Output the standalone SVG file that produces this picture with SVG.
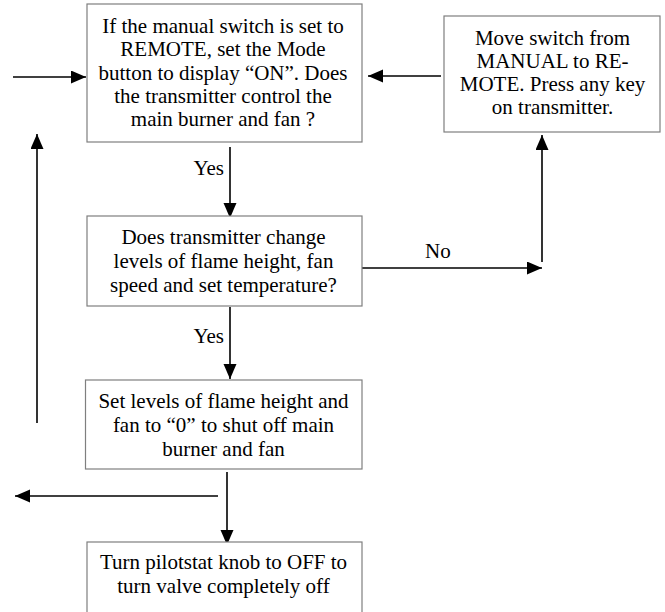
<svg xmlns="http://www.w3.org/2000/svg" width="665" height="612" viewBox="0 0 665 612">
<style>
.box{fill:#fff;stroke:#7f7f7f;stroke-width:1.2}
text{font-family:'Liberation Serif','Times New Roman',Tinos,'DejaVu Serif',serif;font-size:21px;fill:#000}
.t{text-anchor:middle}
.c{stroke:#000;stroke-width:1.6;fill:none;marker-end:url(#ah)}
</style>
<defs>
<marker id="ah" markerUnits="userSpaceOnUse" markerWidth="16" markerHeight="14" refX="15" refY="6.5" orient="auto">
<path d="M0,0 L15,6.5 L0,13 Z" fill="#000"/>
</marker>
</defs>
<g id="connectors">
<line class="c" x1="13" y1="77" x2="86" y2="77"/>
<line class="c" x1="441" y1="76" x2="368" y2="76"/>
<line class="c" x1="230" y1="147" x2="230" y2="218"/>
<line class="c" x1="230" y1="307" x2="230" y2="379"/>
<line class="c" x1="362" y1="268" x2="542" y2="268"/>
<line class="c" x1="542" y1="262" x2="542" y2="135"/>
<line class="c" x1="37" y1="423" x2="37" y2="134"/>
<line class="c" x1="227" y1="472" x2="227" y2="545"/>
<line class="c" x1="218" y1="496" x2="15" y2="496"/>
<text x="224" y="175" text-anchor="end">Yes</text>
<text x="224" y="343" text-anchor="end">Yes</text>
<text x="425" y="258">No</text>
</g>
<g id="n1">
<rect class="box" x="87" y="4" width="275" height="138"/>
<text class="t" x="223" y="33">If the manual switch is set to</text>
<text class="t" x="223" y="56.3">REMOTE, set the Mode</text>
<text class="t" x="223" y="79.6">button to display “ON”. Does</text>
<text class="t" x="223" y="102.9">the transmitter control the</text>
<text class="t" x="223" y="126.2">main burner and fan ?</text>
</g>
<g id="n2">
<rect class="box" x="444" y="16" width="216" height="116"/>
<text class="t" x="552.5" y="44.5">Move switch from</text>
<text class="t" x="552.5" y="67.8">MANUAL to RE-</text>
<text class="t" x="552.5" y="91.1">MOTE. Press any key</text>
<text class="t" x="552.5" y="114.4">on transmitter.</text>
</g>
<g id="n3">
<rect class="box" x="87" y="216" width="275" height="90"/>
<text class="t" x="223.5" y="244">Does transmitter change</text>
<text class="t" x="223.5" y="268">levels of flame height, fan</text>
<text class="t" x="223.5" y="292">speed and set temperature?</text>
</g>
<g id="n4">
<rect class="box" x="85.5" y="380" width="276.5" height="89"/>
<text class="t" x="223.5" y="408">Set levels of flame height and</text>
<text class="t" x="223.5" y="432">fan to “0” to shut off main</text>
<text class="t" x="223.5" y="455.5">burner and fan</text>
</g>
<g id="n5">
<rect class="box" x="87" y="542" width="275" height="100"/>
<text class="t" x="223.5" y="568.5">Turn pilotstat knob to OFF to</text>
<text class="t" x="223.5" y="592.5">turn valve completely off</text>
</g>
</svg>
